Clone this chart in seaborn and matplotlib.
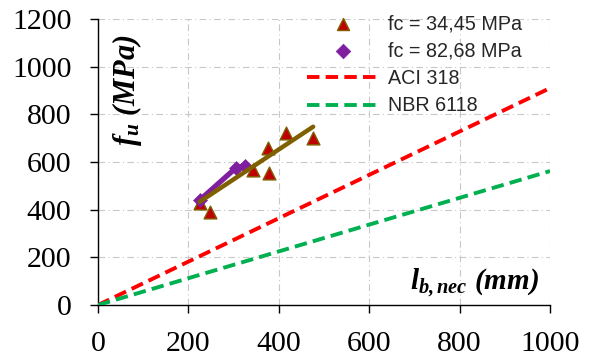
import matplotlib
matplotlib.use("Agg")
import matplotlib.pyplot as plt
import seaborn as sns

# Anchorage length l_b,nec (mm) versus steel stress f_u (MPa)
lb_c34 = [225, 247, 343, 378, 376, 417, 476]
fu_c34 = [426, 391, 566, 552, 657, 720, 700]
lb_c82 = [225, 305, 325]
fu_c82 = [440, 575, 585]

# trend line of the fc = 34,45 MPa series
trend_lb = [225, 476]
trend_fu = [433, 748]

# straight-line predictions of the design codes
code_lb = [0, 1000]
aci_fu = [0, 910]
nbr_fu = [0, 562]

x_ticks = [0, 200, 400, 600, 800, 1000]
y_ticks = [0, 200, 400, 600, 800, 1000, 1200]

labels = ["fc = 34,45 MPa", "fc = 82,68 MPa", "ACI 318", "NBR 6118"]

sns.set_theme(style="white")
plt.rcParams["font.family"] = ["Liberation Serif", "DejaVu Serif"]
plt.rcParams["mathtext.fontset"] = "custom"
plt.rcParams["mathtext.it"] = "Liberation Serif:italic:bold"
plt.rcParams["mathtext.rm"] = "Liberation Serif:italic:bold"
plt.rcParams["mathtext.bf"] = "Liberation Serif:italic:bold"

W, H = 596, 363
fig = plt.figure(figsize=(W / 100, H / 100), dpi=100)
ax = fig.add_axes([98 / W, 1 - 305 / H, (550 - 98) / W, (305 - 19) / H])

dash = (0, (3.2, 1.6))
sns.lineplot(x=code_lb, y=aci_fu, ax=ax, color="#FF0000", lw=2.8,
             linestyle=dash, label=labels[2], zorder=3)
sns.lineplot(x=code_lb, y=nbr_fu, ax=ax, color="#00B050", lw=2.8,
             linestyle=dash, label=labels[3], zorder=3)

sns.scatterplot(x=lb_c34, y=fu_c34, ax=ax, marker="^", s=85,
                color="#C00000", edgecolor="#7F6000", linewidth=1.0,
                label=labels[0], zorder=4)
sns.lineplot(x=lb_c82, y=fu_c82, ax=ax, color="#7F1F9F", lw=3.8,
             zorder=5, legend=False)
sns.scatterplot(x=lb_c82, y=fu_c82, ax=ax, marker="D", s=50,
                color="#7F1F9F", edgecolor="#7F1F9F", linewidth=0.5,
                label=labels[1], zorder=5)
sns.lineplot(x=trend_lb, y=trend_fu, ax=ax, color="#7F6000", lw=3.2,
             zorder=6, legend=False)

ax.set_xlim(0, 1000)
ax.set_ylim(0, 1200)
ax.set_xticks(x_ticks)
ax.set_yticks(y_ticks)
ax.set_xlabel("")
ax.set_ylabel("")

ax.grid(True, color="#C8C8C8", lw=0.8, linestyle=(0, (6, 3, 1, 3)))
ax.set_axisbelow(True)
for side in ("top", "right"):
    ax.spines[side].set_visible(False)
for side in ("left", "bottom"):
    ax.spines[side].set_color("black")
    ax.spines[side].set_linewidth(1.0)
ax.tick_params(axis="both", which="major", direction="out", length=6,
               width=1, color="black", labelsize=21.5, labelcolor="black")
ax.tick_params(axis="x", pad=13, bottom=True)
ax.tick_params(axis="y", pad=13, left=True)

handles, labs = ax.get_legend_handles_labels()
order = [labs.index(l) for l in labels]
leg = ax.legend([handles[i] for i in order], [labs[i] for i in order],
                loc="upper left", bbox_to_anchor=(307 / W, 1 - 14 / H),
                bbox_transform=fig.transFigure, frameon=False,
                borderpad=0, borderaxespad=0, handlelength=3.7,
                handletextpad=0.4, labelspacing=0.43,
                prop={"family": "Liberation Sans", "size": 14.2})
leg.legend_handles[0].set_sizes([75])
leg.legend_handles[1].set_sizes([55])

fig.text(127 / W, 1 - 90 / H, r"$f_u\ (MPa)$", rotation=90,
         ha="center", va="center", fontsize=22, color="black")
fig.text(475 / W, 1 - 289 / H, r"$l_{b,nec}\ (mm)$",
         ha="center", va="baseline", fontsize=21, color="black")

fig.savefig("out.png", dpi=100)
